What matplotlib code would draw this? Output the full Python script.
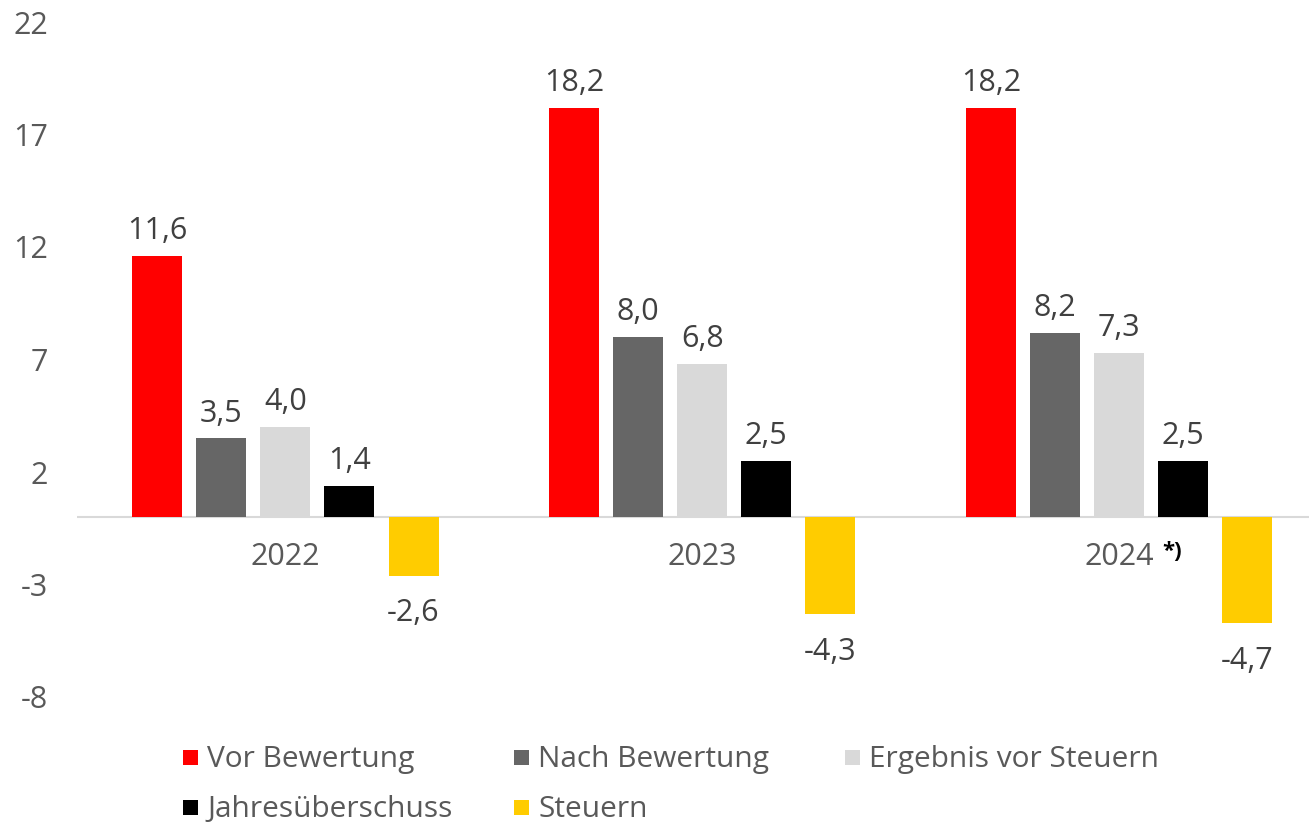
import matplotlib
matplotlib.use('Agg')
import matplotlib.pyplot as plt
import numpy as np
from matplotlib.patches import Rectangle

# ---- data ----
categories = ['2022', '2023', '2024']
series_names = ['Vor Bewertung', 'Nach Bewertung', 'Ergebnis vor Steuern',
                'Jahresüberschuss', 'Steuern']
vor_bewertung = [11.6, 18.2, 18.2]
nach_bewertung = [3.5, 8.0, 8.2]
ergebnis_vor_steuern = [4.0, 6.8, 7.3]
jahresueberschuss = [1.4, 2.5, 2.5]
steuern = [-2.6, -4.3, -4.7]
y_ticks = [-8, -3, 2, 7, 12, 17, 22]
footnote = '*)'

series = [vor_bewertung, nach_bewertung, ergebnis_vor_steuern, jahresueberschuss, steuern]
colors = ['#FF0000', '#666666', '#D9D9D9', '#000000', '#FFCC00']

plt.rcParams['font.family'] = ['Open Sans', 'DejaVu Sans']

W, H = 1309, 824
fig = plt.figure(figsize=(W / 100, H / 100), dpi=100)
ax = fig.add_axes([77 / W, (H - 697) / H, (W - 77) / W, (697 - 22) / H])
ax.set_xlim(-0.5, 2.456)
ax.set_ylim(-8, 22)

x = np.arange(len(categories))
pitch = 0.1537
width = 0.12
label_color = '#404040'
axis_color = '#595959'

for k, vals in enumerate(series):
    xs = x + (k - 2) * pitch
    ax.bar(xs, vals, width=width, color=colors[k], zorder=2)
    for xi, v in zip(xs, vals):
        txt = f"{v:.1f}".replace('.', ',')
        if v >= 0:
            ax.annotate(txt, xy=(xi, v), xytext=(0, 12), textcoords='offset points',
                        ha='center', va='baseline', fontsize=22, color=label_color)
        else:
            ax.annotate(txt, xy=(xi, v), xytext=(0, -33), textcoords='offset points',
                        ha='center', va='baseline', fontsize=22, color=label_color)

ax.axhline(0, color='#D9D9D9', lw=1.5, zorder=1)

for xi, cat in zip(x, categories):
    ax.annotate(cat, xy=(xi, 0), xytext=(0, -34.6), textcoords='offset points',
                ha='center', va='baseline', fontsize=22, color=axis_color)
ax.annotate(footnote, xy=(x[-1], 0), xytext=(31, -28.5), textcoords='offset points',
            ha='left', va='baseline', fontsize=16, fontweight='bold', color='black')

ax.set_xticks([])
ax.set_yticks(y_ticks)
ax.set_yticklabels([str(t) for t in y_ticks])
ax.tick_params(axis='y', length=0, pad=21, labelsize=22, labelcolor=axis_color)
for s in ax.spines.values():
    s.set_visible(False)

# ---- legend (manual, Excel-like fixed columns) ----
col_x = [183, 514, 845]
row_base = [767, 817]
msize = 15
for i, (name, c) in enumerate(zip(series_names, colors)):
    r, cidx = divmod(i, 3)
    mx = col_x[cidx]
    base = row_base[r]
    fig.add_artist(Rectangle((mx / W, (H - (base - 2)) / H), msize / W, msize / H,
                             transform=fig.transFigure, facecolor=c, edgecolor='none'))
    fig.text((mx + 24) / W, (H - base) / H, name, ha='left', va='baseline',
             fontsize=21.5, color=axis_color)

fig.savefig('out.png', dpi=100)
